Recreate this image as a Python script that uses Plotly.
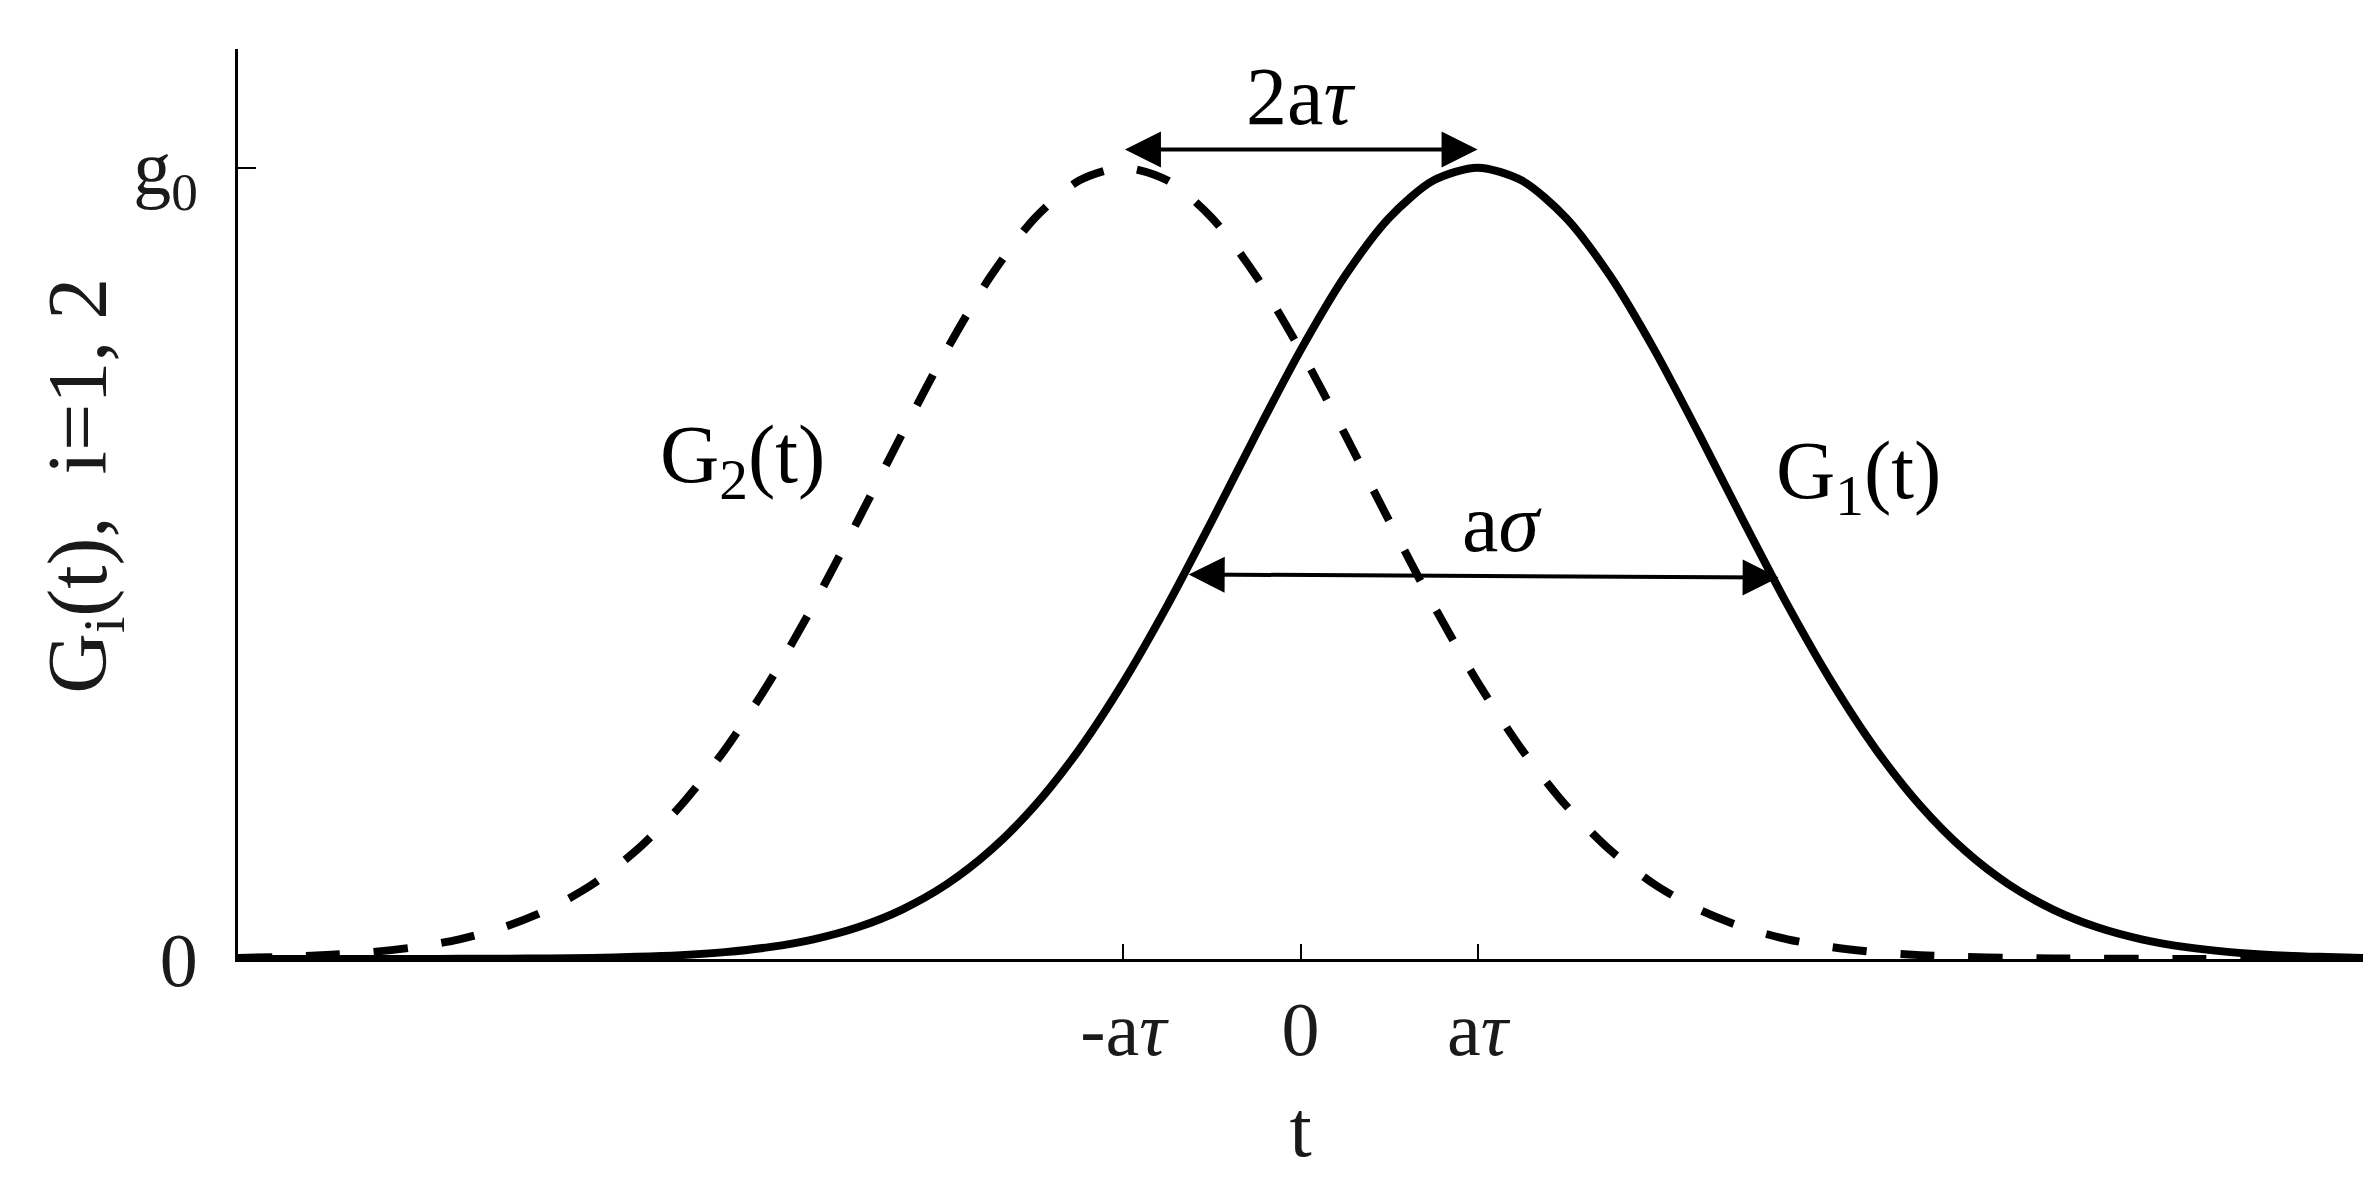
import plotly.graph_objects as go

# t in units of a*tau
t = [-6.0, -5.75, -5.5, -5.25, -5.0, -4.75, -4.5, -4.25, -4.0, -3.75, -3.5, -3.25,
     -3.0, -2.75, -2.5, -2.25, -2.0, -1.75, -1.5, -1.25, -1.0, -0.75, -0.5, -0.25,
     0.0, 0.25, 0.5, 0.75, 1.0, 1.25, 1.5, 1.75, 2.0, 2.25, 2.5, 2.75,
     3.0, 3.25, 3.5, 3.75, 4.0, 4.25, 4.5, 4.75, 5.0, 5.25, 5.5, 5.75, 6.0]

# G1(t): solid curve, peak g0 at +a*tau
g1 = [0.0, 0.0, 0.0, 0.0, 0.0001, 0.0002, 0.0004, 0.0007, 0.0014, 0.0027, 0.0049, 0.0087,
      0.015, 0.0249, 0.0401, 0.0625, 0.0941, 0.1373, 0.1938, 0.2647, 0.3499, 0.4475, 0.554, 0.6635,
      0.7691, 0.8627, 0.9365, 0.9837, 1.0, 0.9837, 0.9365, 0.8627, 0.7691, 0.6635, 0.554, 0.4475,
      0.3499, 0.2647, 0.1938, 0.1373, 0.0941, 0.0625, 0.0401, 0.0249, 0.015, 0.0087, 0.0049, 0.0027, 0.0014]

# G2(t): dashed curve, peak g0 at -a*tau
g2 = [0.0014, 0.0027, 0.0049, 0.0087, 0.015, 0.0249, 0.0401, 0.0625, 0.0941, 0.1373, 0.1938, 0.2647,
      0.3499, 0.4475, 0.554, 0.6635, 0.7691, 0.8627, 0.9365, 0.9837, 1.0, 0.9837, 0.9365, 0.8627,
      0.7691, 0.6635, 0.554, 0.4475, 0.3499, 0.2647, 0.1938, 0.1373, 0.0941, 0.0625, 0.0401, 0.0249,
      0.015, 0.0087, 0.0049, 0.0027, 0.0014, 0.0007, 0.0004, 0.0002, 0.0001, 0.0, 0.0, 0.0, 0.0]

x_tickvals = [-1, 0, 1]
x_ticktext = ["-a<i>τ</i>", "0", "a<i>τ</i>"]
y_tickvals = [0, 1]
y_ticktext = ["0", "g<sub>0</sub>"]

# double arrows: (x0, y0, x1, y1)
arrow_2atau = (-1.0, 1.023, 1.0, 1.023)
arrow_asigma = (-0.64, 0.486, 2.70, 0.482)

FONT = "Liberation Serif"

fig = go.Figure()

fig.add_trace(go.Scatter(
    x=t, y=g2, mode="lines",
    line=dict(color="black", width=8, dash="34px,34px", shape="spline", smoothing=0.8),
    showlegend=False
))
fig.add_trace(go.Scatter(
    x=t, y=g1, mode="lines",
    line=dict(color="black", width=8, shape="spline", smoothing=0.8),
    showlegend=False
))

annotations = []
for (x0, y0, x1, y1) in [arrow_2atau, arrow_asigma]:
    annotations.append(dict(
        x=x1, y=y1, ax=x0, ay=y0, xref="x", yref="y", axref="x", ayref="y",
        text="", showarrow=True, arrowhead=2, startarrowhead=2,
        arrowside="end+start", arrowwidth=4, arrowsize=1.8, startarrowsize=1.8,
        arrowcolor="black", standoff=0, startstandoff=0
    ))

labels = [
    ("2a<i>τ</i>", 0.0, 1.09),
    ("a<i>σ</i>", 1.14, 0.55),
    ("G<sub>2</sub>(t)", -3.15, 0.63),
    ("G<sub>1</sub>(t)", 3.15, 0.61),
]
for txt, lx, ly in labels:
    annotations.append(dict(
        x=lx, y=ly, xref="x", yref="y", text=txt, showarrow=False,
        font=dict(family=FONT, size=82, color="black")
    ))

# y axis title placed by hand so it sits where the reference has it
annotations.append(dict(
    x=-0.0725, y=0.52, xref="paper", yref="paper", textangle=-90,
    text="G<sub>i</sub>(t),\u00a0 i=1, 2", showarrow=False,
    xanchor="center", yanchor="middle",
    font=dict(family=FONT, size=84, color="#1a1a1a")
))

fig.update_layout(
    width=2378, height=1177,
    paper_bgcolor="white", plot_bgcolor="white",
    margin=dict(l=230, r=23, t=41, b=226),
    font=dict(family=FONT, size=76, color="#1a1a1a"),
    annotations=annotations,
)

fig.update_xaxes(
    range=[-6, 6], showgrid=False, zeroline=False,
    showline=True, linecolor="black", linewidth=3,
    ticks="inside", ticklen=15, tickwidth=2, tickcolor="black",
    tickvals=x_tickvals, ticktext=x_ticktext, ticklabelstandoff=2,
    title=dict(text="t", standoff=30, font=dict(family=FONT, size=80))
)
fig.update_yaxes(
    range=[0, 1.15], showgrid=False, zeroline=False,
    showline=True, linecolor="black", linewidth=3,
    ticks="inside", ticklen=18, tickwidth=2, tickcolor="black",
    tickvals=y_tickvals, ticktext=y_ticktext, ticklabelstandoff=22
)

fig.write_html("out.html")
